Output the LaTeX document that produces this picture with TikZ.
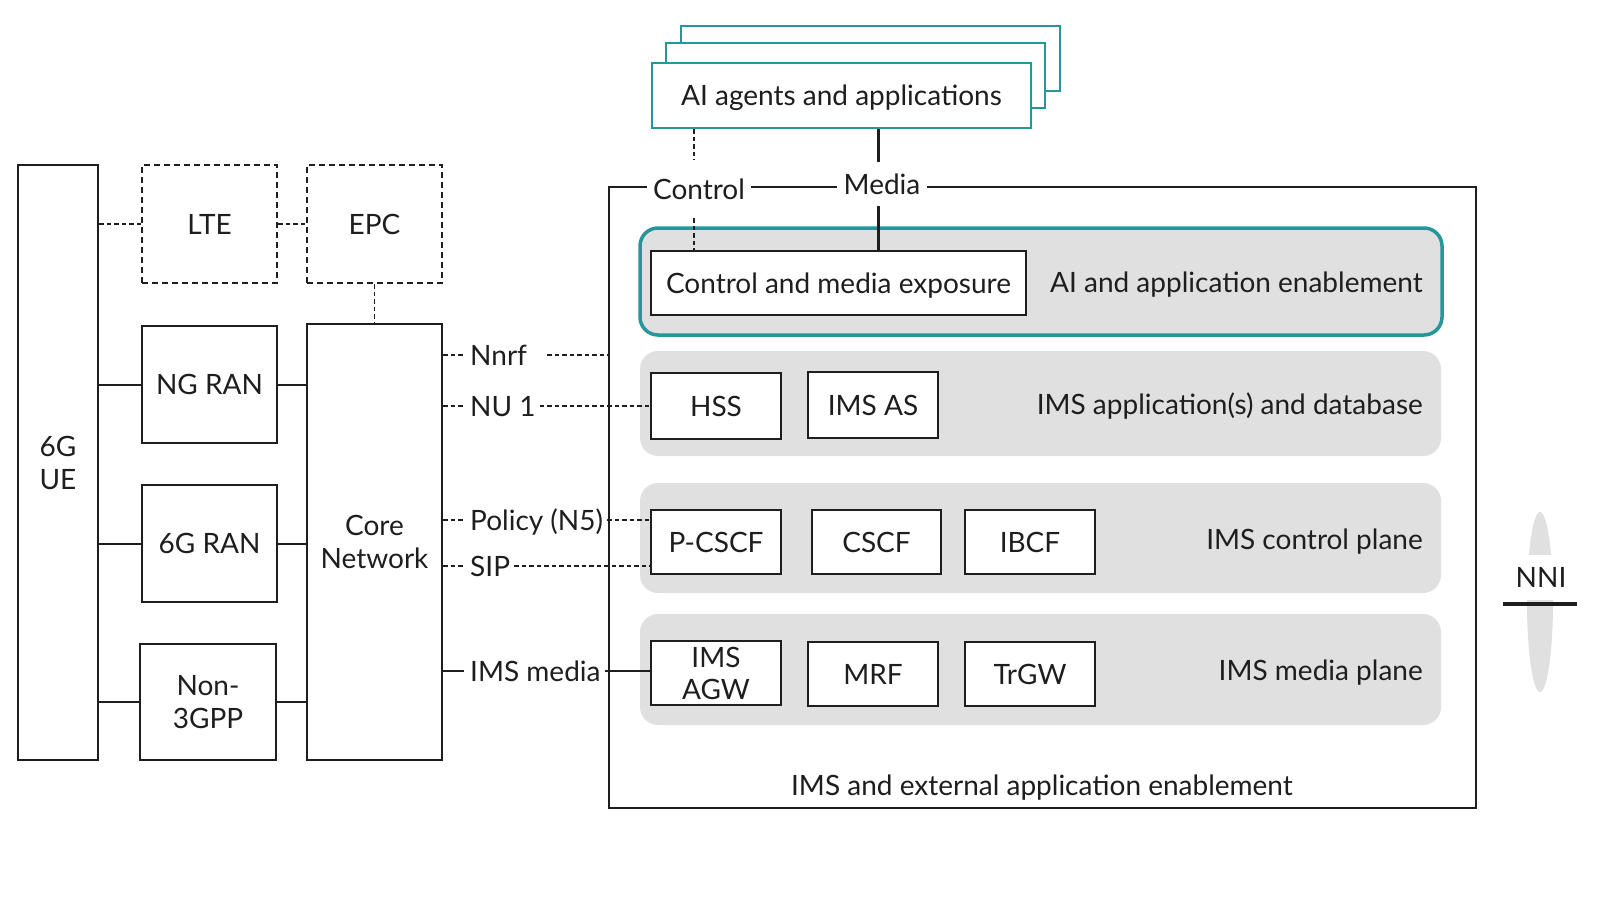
\documentclass[tikz,border=0pt]{standalone}
\usepackage{fontspec}
\setmainfont{Lato}
\usetikzlibrary{shapes.geometric}
\definecolor{linec}{RGB}{30,30,30}
\definecolor{tealc}{RGB}{38,150,155}
\definecolor{grayc}{RGB}{224,224,224}
\tikzset{
  txt/.style={font=\fontsize{28}{33}\selectfont, text=linec},
  sl/.style={text height=20pt, text depth=0pt},
  box/.style={txt, draw=linec, line width=2.2pt, fill=white, inner sep=0pt, align=center},
  sbox/.style={box, sl},
  dbox/.style={sbox, line width=2pt, dash pattern=on 6pt off 4pt},
  grp/.style={fill=grayc, rounded corners=18pt},
  conn/.style={draw=linec, line width=2pt},
  dconn/.style={conn, line width=1.7pt, dash pattern=on 4.5pt off 3pt},
  lbl/.style={txt, sl, inner sep=4pt},
  stack/.style={draw=tealc, line width=2.4pt, fill=white, inner sep=0pt, txt, sl},
}
\begin{document}
\begin{tikzpicture}[x=1pt,y=-1pt]
\useasboundingbox[fill=white] (0,0) rectangle (1600,900);

% left side
\node[box, minimum width=80, minimum height=595] (ue) at (58,462.5) {6G\\UE};
\node[dbox, minimum width=135, minimum height=118] (lte) at (209.5,224) {LTE};
\node[dbox, minimum width=135, minimum height=118] (epc) at (374.5,224) {EPC};
\node[sbox, minimum width=135, minimum height=117] (ngran) at (209.5,384.5) {NG RAN};
\node[sbox, minimum width=135, minimum height=117] (sixran) at (209.5,543.5) {6G RAN};
\node[box, minimum width=136, minimum height=116] (non3) at (208,702) {Non-\\3GPP};
\node[box, minimum width=135, minimum height=436] (core) at (374.5,542) {Core\\Network};

\draw[dconn] (lte.west -| ue.east) -- (lte.west);
\draw[dconn] (lte.east) -- (epc.west);
\draw[dconn] (epc.south) -- (core.north);
\draw[conn] (ngran.west -| ue.east) -- (ngran.west);
\draw[conn] (ngran.east) -- (ngran.east -| core.west);
\draw[conn] (sixran.west -| ue.east) -- (sixran.west);
\draw[conn] (sixran.east) -- (sixran.east -| core.west);
\draw[conn] (non3.west -| ue.east) -- (non3.west);
\draw[conn] (non3.east) -- (non3.east -| core.west);

% AI agents stack
\node[stack, minimum width=379, minimum height=65] (st3) at (870.5,58.5) {};
\node[stack, minimum width=379, minimum height=65] (st2) at (855.5,75.5) {};
\node[stack, minimum width=379, minimum height=65] (front) at (841.5,95.5) {AI agents and applications};

% outer box
\coordinate (oTL) at (609,187);
\coordinate (oBR) at (1476,808);
\node[lbl, inner xsep=6pt, minimum height=58] (control) at (699,189) {Control};
\node[lbl, inner xsep=6pt, minimum height=44] (media) at (882,184) {Media};
\draw[conn] (control.west |- oTL) -- (oTL) -- (oTL |- oBR) -- (oBR) -- (oBR |- oTL) -- (media.east |- oTL);
\draw[conn] (control.east |- oTL) -- (media.west |- oTL);
\node[lbl] (outerlbl) at (1042,785) {IMS and external application enablement};

% groups
\draw[grp, draw=tealc, line width=3.5pt] (640,228) rectangle (1442,335);
\fill[grp] (640,351) rectangle (1441,456);
\fill[grp] (640,483) rectangle (1441,593);
\fill[grp] (640,614) rectangle (1441,725);

\node[lbl, anchor=east] (g0) at (1427,282) {AI and application enablement};
\node[lbl, anchor=east] (g1) at (1427,404) {IMS application(s) and database};
\node[lbl, anchor=east] (g2) at (1427,539) {IMS control plane};
\node[lbl, anchor=east] (g3) at (1427,670) {IMS media plane};

\node[sbox, minimum width=375, minimum height=64] (cme) at (838.5,283) {Control and media exposure};
\node[sbox, minimum width=130, minimum height=66] (hss) at (716,406) {HSS};
\node[sbox, minimum width=130, minimum height=66] (imsas) at (873,405) {IMS AS};
\node[sbox, minimum width=130, minimum height=64] (pcscf) at (716,542) {P-CSCF};
\node[sbox, minimum width=129, minimum height=64] (cscf) at (876.5,542) {CSCF};
\node[sbox, minimum width=130, minimum height=64] (ibcf) at (1030,542) {IBCF};
\node[box, minimum width=130, minimum height=64, font=\fontsize{28}{32}\selectfont] (agw) at (716,673) {IMS\\AGW};
\node[sbox, minimum width=130, minimum height=64] (mrf) at (873,674) {MRF};
\node[sbox, minimum width=130, minimum height=64] (trgw) at (1030,674) {TrGW};

% control / media links
\coordinate (cx) at (694,0);
\coordinate (mx) at (878.5,0);
\draw[dconn] (front.south -| cx) -- (control.north -| cx);
\draw[dconn] (control.south -| cx) -- (cme.north -| cx);
\draw[conn, line width=2.6pt] (front.south -| mx) -- (media.north -| mx);
\draw[conn, line width=2.6pt] (media.south -| mx) -- (cme.north -| mx);

% interface labels
\node[lbl, anchor=west] (nnrf) at (466,355) {Nnrf};
\node[lbl, anchor=west] (nu1) at (466,406) {NU 1};
\node[lbl, anchor=west] (pol) at (466,520) {Policy (N5)};
\node[lbl, anchor=west] (sip) at (466,566) {SIP};
\node[lbl, anchor=west] (imsm) at (466,671) {IMS media};

\draw[dconn] (nnrf.west -| core.east) -- ([xshift=-2pt]nnrf.west);
\draw[dconn] (nu1.west -| core.east) -- ([xshift=-2pt]nu1.west);
\draw[dconn] (pol.west -| core.east) -- ([xshift=-2pt]pol.west);
\draw[dconn] (sip.west -| core.east) -- ([xshift=-2pt]sip.west);
\draw[conn, line width=2.6pt] (imsm.west -| core.east) -- ([xshift=-2pt]imsm.west);

\draw[dconn] ([xshift=16pt]nnrf.east) -- (nnrf.east -| oTL);
\draw[dconn] (nu1.east) -- (nu1.east -| hss.west);
\draw[dconn] (pol.east) -- (pol.east -| pcscf.west);
\draw[dconn] (sip.east) -- (sip.east -| pcscf.west);
\draw[conn, line width=2.6pt] (imsm.east) -- (imsm.east -| agw.west);

% NNI
\fill[grayc] (1540,602) ellipse [x radius=13, y radius=90];
\node[lbl, fill=white, minimum height=45, inner xsep=10pt] (nni) at (1541,577) {NNI};
\coordinate (nniL) at (1503,604);
\coordinate (nniR) at (1577,604);
\draw[linec, line width=4pt] (nniL) -- (nniR);
\end{tikzpicture}
\end{document}
